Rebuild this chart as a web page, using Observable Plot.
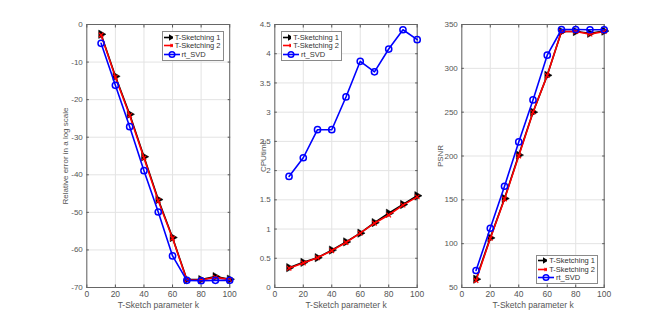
<!DOCTYPE html>
<html>
<head>
<meta charset="utf-8">
<script src="https://cdn.jsdelivr.net/npm/d3@7"></script>
<script src="https://cdn.jsdelivr.net/npm/@observablehq/plot@0.6"></script>
<style>
  body { margin: 0; background: #fff; }
  #wrap { position: relative; width: 667px; height: 323px; overflow: hidden; font-family: "Liberation Sans", Arial, sans-serif; }
  .panel { position: absolute; top: 0; }
  .legend { position: absolute; background: #fff; border: 1px solid #8a8a8a; font-size: 7.5px; color: #333; padding: 1px 2px 1px 1px; line-height: 9px; }
  .legend .row { display: flex; align-items: center; height: 8.5px; white-space: nowrap; }
  .legend svg { margin-right: 2px; }
</style>
</head>
<body>
<div id="wrap"></div>
<script>
const k = [10, 20, 30, 40, 50, 60, 70, 80, 90, 100];
const seriesNames = ["T-Sketching 1", "T-Sketching 2", "rt_SVD"];

const errTS1 = [-2.6, -13.8, -23.9, -35.2, -46.6, -56.7, -67.9, -67.9, -67.1, -67.8];
const errTS2 = [-2.8, -14.0, -24.2, -35.5, -46.9, -56.9, -68.0, -68.0, -67.3, -67.9];
const errRT  = [-5.0, -16.2, -27.2, -38.9, -49.9, -61.6, -68.1, -68.2, -68.1, -68.1];

const cpuTS1 = [0.34, 0.43, 0.51, 0.64, 0.78, 0.93, 1.11, 1.27, 1.42, 1.57];
const cpuTS2 = [0.33, 0.42, 0.51, 0.63, 0.77, 0.93, 1.10, 1.24, 1.41, 1.55];
const cpuRT  = [1.90, 2.22, 2.70, 2.70, 3.26, 3.87, 3.69, 4.08, 4.41, 4.24];

const psnrTS1 = [59.5, 106.6, 151.5, 201, 250, 292, 342, 342, 340, 342.5];
const psnrTS2 = [58, 106, 151, 200, 250, 292, 342, 342, 339, 342];
const psnrRT  = [69.4, 117.6, 165.5, 216, 264, 315, 344.3, 344.3, 344, 344];

const xTicks = [0, 20, 40, 60, 80, 100];
const errTicks = [-70, -60, -50, -40, -30, -20, -10, 0];
const cpuTicks = [0, 0.5, 1, 1.5, 2, 2.5, 3, 3.5, 4, 4.5];
const psnrTicks = [50, 100, 150, 200, 250, 300, 350];

const colors = {"T-Sketching 1": "#000000", "T-Sketching 2": "#ff0000", "rt_SVD": "#0000ff"};

function rows(a, b, c) {
  return [a, b, c].map((vals, i) => vals.map((v, j) => ({k: k[j], v, s: seriesNames[i]})));
}

function seriesMarks(r) {
  const [s1, s2, s3] = r;
  return [
    Plot.line(s1, {x: "k", y: "v", stroke: colors["T-Sketching 1"], strokeWidth: 1.6}),
    Plot.dot(s1, {x: "k", y: "v", symbol: "triangle", rotate: 90, r: 3.1, fill: "#000", stroke: "#000", strokeWidth: 0.5}),
    Plot.line(s2, {x: "k", y: "v", stroke: colors["T-Sketching 2"], strokeWidth: 1.6}),
    Plot.dot(s2, {x: "k", y: "v", symbol: "times", r: 2.2, stroke: "#ff0000", strokeWidth: 1.2}),
    Plot.line(s3, {x: "k", y: "v", stroke: colors["rt_SVD"], strokeWidth: 1.6}),
    Plot.dot(s3, {x: "k", y: "v", symbol: "circle", r: 3.1, fill: "none", stroke: "#0000ff", strokeWidth: 1.5})
  ];
}

function panel({left, width, mL, mR, yDomain, yTicks, yLabel, yLabelOffset, data}) {
  const p = Plot.plot({
    width, height: 323,
    marginLeft: mL, marginRight: mR, marginTop: 24, marginBottom: 36,
    style: {fontFamily: "'Liberation Sans', Arial, sans-serif", fontSize: "8px", color: "#555", background: "transparent", overflow: "visible"},
    x: {domain: [0, 100]},
    y: {domain: yDomain},
    marks: [
      Plot.gridX(xTicks, {stroke: "#e3e3e3", strokeOpacity: 1}),
      Plot.gridY(yTicks, {stroke: "#e3e3e3", strokeOpacity: 1}),
      Plot.axisX({ticks: xTicks, tickSize: 0, tickPadding: 3.5, label: "T-Sketch parameter k", labelAnchor: "center", labelArrow: "none", labelOffset: 20.5, fontSize: 8.5, tickFormat: d => d}),
      Plot.axisX({ticks: xTicks, anchor: "bottom", tickSize: -2.5, tickFormat: () => "", label: null, stroke: "#555"}),
      Plot.axisX({ticks: xTicks, anchor: "top", tickSize: -2.5, tickFormat: () => "", label: null, stroke: "#555"}),
      Plot.axisY({ticks: yTicks, tickSize: 0, tickPadding: 4, label: yLabel, labelAnchor: "center", labelArrow: "none", labelOffset: yLabelOffset, tickFormat: d => d}),
      Plot.axisY({ticks: yTicks, anchor: "left", tickSize: -2.5, tickFormat: () => "", label: null, stroke: "#555"}),
      Plot.axisY({ticks: yTicks, anchor: "right", tickSize: -2.5, tickFormat: () => "", label: null, stroke: "#555"}),
      Plot.frame({stroke: "#666", strokeWidth: 1}),
      ...seriesMarks(data)
    ]
  });
  p.classList.add("panel");
  p.style.left = left + "px";
  return p;
}

const wrap = document.getElementById("wrap");
wrap.appendChild(panel({left: 0, width: 240, mL: 86.3, mR: 10.8, yDomain: [-70, 0], yTicks: errTicks, yLabel: "Relative error in a log scale", yLabelOffset: 24, data: rows(errTS1, errTS2, errRT)}));
wrap.appendChild(panel({left: 240, width: 190, mL: 34.3, mR: 13.3, yDomain: [0, 4.5], yTicks: cpuTicks, yLabel: "CPUtime", yLabelOffset: 14, data: rows(cpuTS1, cpuTS2, cpuRT)}));
wrap.appendChild(panel({left: 430, width: 237, mL: 31.3, mR: 63.3, yDomain: [50, 350], yTicks: psnrTicks, yLabel: "PSNR", yLabelOffset: 24, data: rows(psnrTS1, psnrTS2, psnrRT)}));

const markerSvg = {
  "T-Sketching 1": '<polygon points="10.5,4.5 5,1.3 5,7.7" fill="#000"/>',
  "T-Sketching 2": '<path d="M6.5,2.8L9.5,6.2M9.5,2.8L6.5,6.2" stroke="#ff0000" stroke-width="1.2"/>',
  "rt_SVD": '<circle cx="8" cy="4.5" r="2.8" fill="none" stroke="#0000ff" stroke-width="1.5"/>'
};
function legend(left, top, w) {
  const d = document.createElement("div");
  d.className = "legend";
  d.style.left = left + "px";
  d.style.top = top + "px";
  d.style.width = w + "px";
  seriesNames.forEach(n => {
    const r = document.createElement("div");
    r.className = "row";
    r.innerHTML = `<svg width="16" height="9"><line x1="0" x2="16" y1="4.5" y2="4.5" stroke="${colors[n]}" stroke-width="1.6"/>${markerSvg[n]}</svg><span>${n}</span>`;
    d.appendChild(r);
  });
  wrap.appendChild(d);
}
legend(161.5, 31, 57);
legend(281, 31, 56);
legend(536, 254.5, 57);
</script>
</body>
</html>
